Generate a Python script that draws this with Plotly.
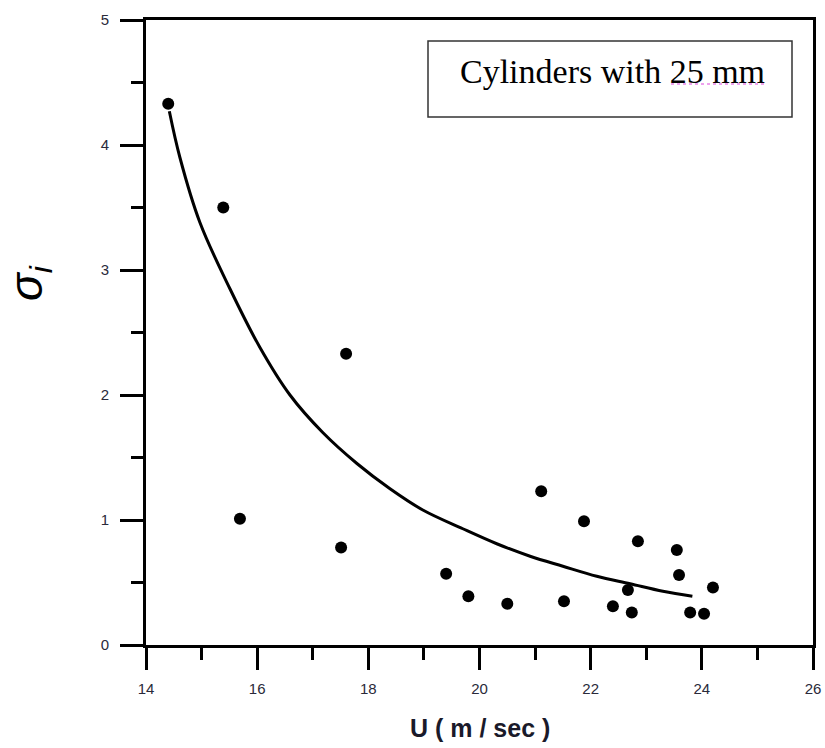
import plotly.graph_objects as go

# Measured points
u_data = [14.40, 15.39, 17.60, 15.69, 17.51, 19.40, 19.80, 20.50, 21.11, 21.52,
          21.88, 22.40, 22.67, 22.74, 22.85, 23.55, 23.59, 23.79, 24.04, 24.20]
sigma_data = [4.33, 3.50, 2.33, 1.01, 0.78, 0.57, 0.39, 0.33, 1.23, 0.35,
              0.99, 0.31, 0.44, 0.26, 0.83, 0.76, 0.56, 0.26, 0.25, 0.46]

# Fitted curve
fit_u = [14.42, 14.61, 14.97, 15.51, 16.05, 16.59, 17.18, 17.80, 18.39, 18.98,
         19.70, 20.31, 20.91, 21.50, 22.11, 22.71, 23.30, 23.83]
fit_sigma = [4.27, 3.90, 3.38, 2.85, 2.38, 2.00, 1.70, 1.45, 1.25, 1.08,
             0.93, 0.81, 0.71, 0.63, 0.55, 0.49, 0.43, 0.39]

x_ticks = [14, 16, 18, 20, 22, 24, 26]
y_ticks = [0, 1, 2, 3, 4, 5]

W, H = 825, 748
L, R, T, B = 146, 12, 20, 103
pw, ph = W - L - R, H - T - B


def px(xpix):
    return (xpix - L) / pw


def py(ypix):
    return (H - B - ypix) / ph


fig = go.Figure()
fig.add_trace(go.Scatter(x=fit_u, y=fit_sigma, mode="lines",
                         line=dict(color="black", width=3, shape="spline", smoothing=1.0),
                         showlegend=False, hoverinfo="skip"))
fig.add_trace(go.Scatter(x=u_data, y=sigma_data, mode="markers",
                         marker=dict(color="black", size=12, symbol="circle"),
                         showlegend=False))

tickfont = dict(family="Liberation Sans, Arial", size=15, color="#2a2a3a")

fig.update_layout(
    width=W, height=H,
    margin=dict(l=L, r=R, t=T, b=B, autoexpand=False),
    paper_bgcolor="white", plot_bgcolor="white",
    xaxis=dict(range=[14, 26], tickvals=x_ticks, ticktext=[str(v) for v in x_ticks],
               automargin=False,
               showgrid=False, zeroline=False,
               showline=True, linecolor="black", linewidth=3, mirror=True,
               ticks="outside", ticklen=22, tickwidth=3, tickcolor="black",
               minor=dict(ticks="outside", ticklen=12, tickwidth=3, tickcolor="black", dtick=1),
               tickfont=tickfont, ticklabelstandoff=6),
    yaxis=dict(range=[0, 5], tickvals=y_ticks, ticktext=[str(v) for v in y_ticks],
               automargin=False,
               showgrid=False, zeroline=False,
               showline=True, linecolor="black", linewidth=3, mirror=True,
               ticks="outside", ticklen=23, tickwidth=3, tickcolor="black",
               minor=dict(ticks="outside", ticklen=12, tickwidth=3, tickcolor="black", dtick=0.5),
               tickfont=tickfont, ticklabelstandoff=8),
)

# Axis titles
fig.add_annotation(text="<b>U&nbsp;( m&nbsp;/ sec )</b>",
                   xref="paper", yref="paper",
                   x=0.5, y=py(728), xanchor="center", yanchor="middle", showarrow=False,
                   font=dict(family="Liberation Sans, Arial", size=25, color="#1a1a2a"))
fig.add_annotation(text="<i>σ<sub>i</sub></i>", xref="paper", yref="paper",
                   x=px(30), y=py(283), xanchor="center", yanchor="middle", showarrow=False,
                   textangle=-90,
                   font=dict(family="Liberation Sans, Arial", size=46, color="black"))

# Label box
fig.add_shape(type="rect", xref="paper", yref="paper",
              x0=px(428), x1=px(792), y0=py(117), y1=py(41),
              line=dict(color="#333333", width=1.5), fillcolor="white", layer="above")
fig.add_annotation(text="Cylinders with 25 mm", xref="paper", yref="paper",
                   x=px(458), y=py(71), xanchor="left", yanchor="middle",
                   showarrow=False,
                   font=dict(family="Liberation Serif, Times New Roman", size=34, color="black"))
fig.add_shape(type="line", xref="paper", yref="paper",
              x0=px(671), x1=px(765), y0=py(84), y1=py(84),
              line=dict(color="#dd44dd", width=1, dash="dot"))

fig.write_html("out.html",
               config={"displayModeBar": False},
               post_script="document.body.style.margin='0';document.body.style.overflow='hidden';")
